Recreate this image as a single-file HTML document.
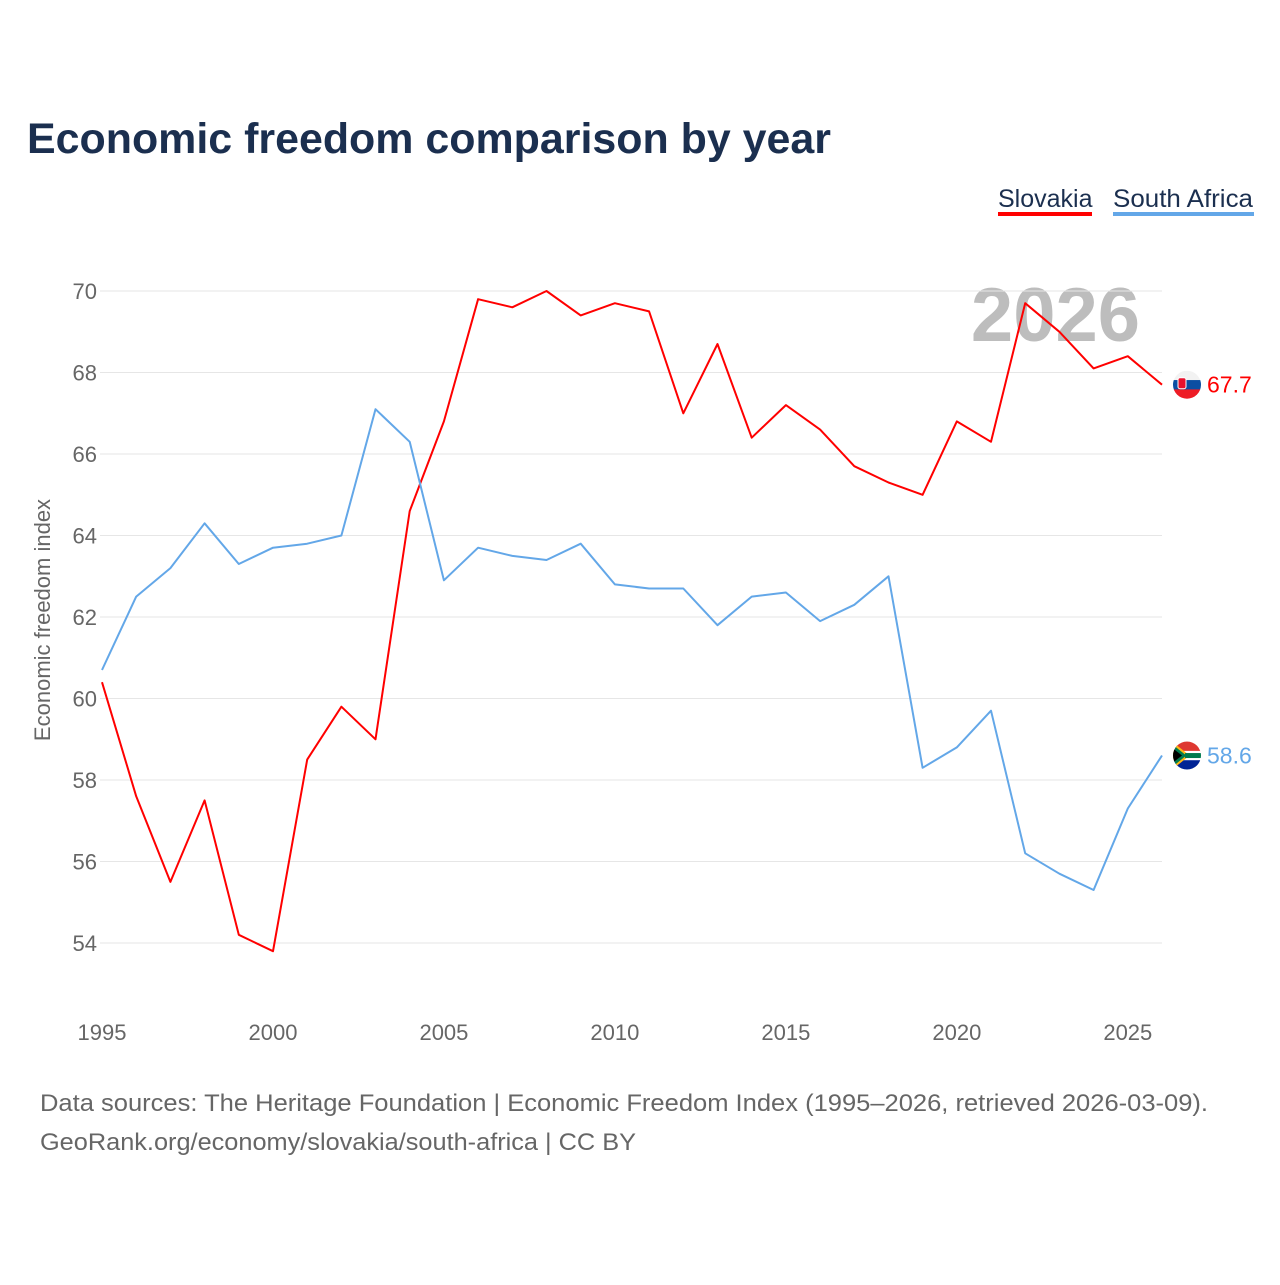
<!DOCTYPE html>
<html><head><meta charset="utf-8">
<style>
body{margin:0;background:#fff;font-family:"Liberation Sans",sans-serif;}
#wrap{position:relative;width:1280px;height:1280px;}
</style></head>
<body>
<div id="wrap">
<svg id="chart" width="1280" height="1280" xmlns="http://www.w3.org/2000/svg">
<text x="27" y="153" font-size="43" font-weight="bold" fill="#1b2f4f" textLength="804" lengthAdjust="spacingAndGlyphs">Economic freedom comparison by year</text>
<g><text x="998" y="207" font-size="25" fill="#1b2f4f">Slovakia</text><rect x="998" y="212" width="94" height="4" fill="#ff0000"/></g>
<g><text x="1113" y="207" font-size="25" fill="#1b2f4f" textLength="140" lengthAdjust="spacingAndGlyphs">South Africa</text><rect x="1113" y="212" width="141" height="4" fill="#63a7e8"/></g>
<text x="1140" y="341" font-size="76" font-weight="bold" fill="#bdbdbd" text-anchor="end">2026</text>
<g id="grid"></g><g id="axes"></g><g id="lines"></g>
<text transform="translate(50,620) rotate(-90)" font-size="22" fill="#666" text-anchor="middle">Economic freedom index</text>
<text x="40" y="1111" font-size="24" fill="#666" textLength="1168" lengthAdjust="spacingAndGlyphs">Data sources: The Heritage Foundation | Economic Freedom Index (1995–2026, retrieved 2026-03-09).</text>
<text x="40" y="1150" font-size="24" fill="#666" textLength="596" lengthAdjust="spacingAndGlyphs">GeoRank.org/economy/slovakia/south-africa | CC BY</text>
</svg>
</div>
<script>
const years=[1995,1996,1997,1998,1999,2000,2001,2002,2003,2004,2005,2006,2007,2008,2009,2010,2011,2012,2013,2014,2015,2016,2017,2018,2019,2020,2021,2022,2023,2024,2025,2026];
const slovakia=[60.4,57.6,55.5,57.5,54.2,53.8,58.5,59.8,59.0,64.6,66.8,69.8,69.6,70.0,69.4,69.7,69.5,67.0,68.7,66.4,67.2,66.6,65.7,65.3,65.0,66.8,66.3,69.7,69.0,68.1,68.4,67.7];
const southAfrica=[60.7,62.5,63.2,64.3,63.3,63.7,63.8,64.0,67.1,66.3,62.9,63.7,63.5,63.4,63.8,62.8,62.7,62.7,61.8,62.5,62.6,61.9,62.3,63.0,58.3,58.8,59.7,56.2,55.7,55.3,57.3,58.6];
const yTicks=[54,56,58,60,62,64,66,68,70];
const xTicks=[1995,2000,2005,2010,2015,2020,2025];
const NS="http://www.w3.org/2000/svg";
const xs=y=>102+(y-1995)*(1060/31);
const ys=v=>291+(70-v)*40.75;
function mk(tag,attrs,parent){const e=document.createElementNS(NS,tag);for(const k in attrs)e.setAttribute(k,attrs[k]);parent.appendChild(e);return e;}
const grid=document.getElementById('grid'),axes=document.getElementById('axes'),lines=document.getElementById('lines');
yTicks.forEach(t=>{
  const l=mk('line',{x1:100,x2:1162,y1:ys(t),y2:ys(t),stroke:'#e6e6e6','stroke-width':1},grid);
  
  
  const tx=mk('text',{x:97,y:ys(t)+8,'font-size':22,fill:'#666','text-anchor':'end'},axes);
  tx.textContent=t;
  
  
});
xTicks.forEach(t=>{
  const tx=mk('text',{x:xs(t),y:1040,'font-size':22,fill:'#666','text-anchor':'middle'},axes);
  tx.textContent=t;
  
  
});
function series(vals,color,name,flag){
  const p=mk('path',{d:vals.map((v,i)=>(i?'L':'M')+xs(years[i]).toFixed(1)+','+ys(v).toFixed(1)).join(''),fill:'none',stroke:color,'stroke-width':2,'stroke-linejoin':'round'},lines);
  
  
  const last=vals[vals.length-1],cx=xs(years[years.length-1])+25,cy=ys(last);
  const g=mk('g',{},lines);
  
  
  mk('clipPath',{id:'c'+name},g).appendChild(document.createElementNS(NS,'circle')).setAttribute('r',14);
  g.lastChild.firstChild.setAttribute('cx',cx);g.lastChild.firstChild.setAttribute('cy',cy);
  const cg=mk('g',{'clip-path':'url(#c'+name+')'},g);
  flag.forEach((c,i)=>mk('rect',{x:cx-14,y:cy-14+i*28/flag.length,width:28,height:28/flag.length+0.5,fill:c},cg));
  if(name==='south-africa'){mk('polygon',{points:`${cx-14},${cy-12} ${cx+1},${cy} ${cx-14},${cy+12}`,fill:'#007a4d',stroke:'#ffb612','stroke-width':2},cg);mk('polygon',{points:`${cx-14},${cy-7} ${cx-5},${cy} ${cx-14},${cy+7}`,fill:'#000'},cg);mk('rect',{x:cx-2,y:cy-2.5,width:16,height:5,fill:'#007a4d'},cg);}
  if(name==='slovakia'){mk('rect',{x:cx-9,y:cy-7,width:8,height:11,rx:2,fill:'#e8112d',stroke:'#fff','stroke-width':1},cg);}
  const t=mk('text',{x:cx+20,y:cy+8,'font-size':23,fill:color},lines);
  t.textContent=last.toFixed(1);
  
  
}
series(slovakia,'#ff0000','slovakia',['#f2f2f2','#0b4ea2','#ee1c25']);
series(southAfrica,'#63a7e8','south-africa',['#de3831','#ffffff','#002395']);
</script>
</body></html>
